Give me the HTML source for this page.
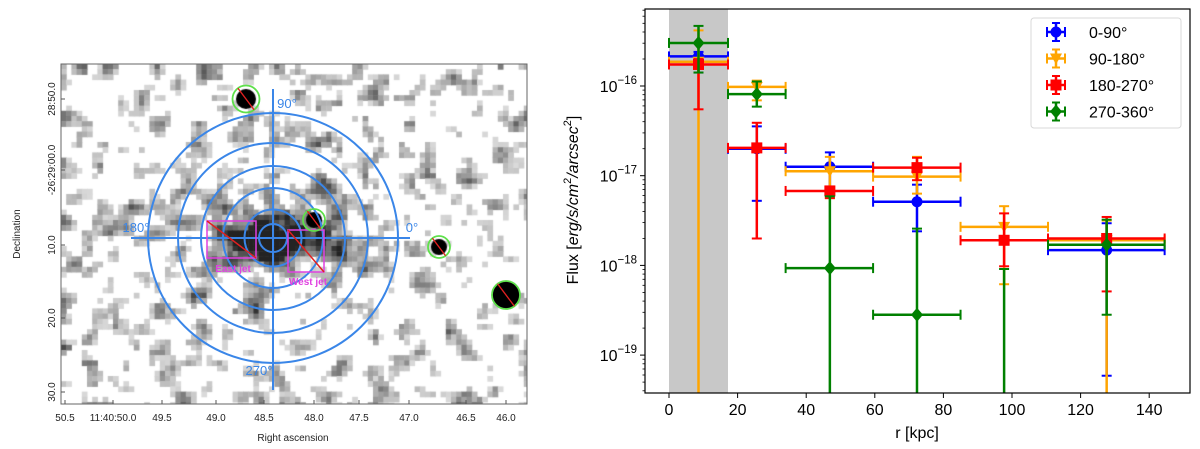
<!DOCTYPE html>
<html><head><meta charset="utf-8"><style>
html,body{margin:0;padding:0;background:#fff;width:1200px;height:449px;overflow:hidden;font-family:"Liberation Sans",sans-serif}
#img{position:absolute;left:0;top:0}
#chart{position:absolute;left:0;top:0}
</style></head><body>
<svg id="img" width="560" height="449" font-family="Liberation Sans, sans-serif">
<foreignObject x="61" y="64" width="466" height="340"><canvas xmlns="http://www.w3.org/1999/xhtml" id="cv" width="466" height="340"></canvas></foreignObject>
<rect x="61" y="64" width="466" height="340" fill="none" stroke="#666" stroke-width="1"/>
<g id="overlay"></g>
</svg>
<svg id="chart" width="1200" height="449" font-family="Liberation Sans, DejaVu Sans, sans-serif"></svg>
<script>
// ---------- sky image (noise texture) ----------
(function(){
 const cv=document.getElementById('cv');const c=cv.getContext('2d');
 c.fillStyle='#fff';c.fillRect(0,0,466,340);
 let s=12345;function rnd(){s=(s*1103515245+12345)&0x7fffffff;return s/0x7fffffff;}
 const cs=5.2,nx=Math.ceil(466/cs),ny=Math.ceil(340/cs);
 let g=[];for(let j=0;j<ny;j++){g[j]=[];for(let i=0;i<nx;i++)g[j][i]=rnd();}
 let h=[];for(let j=0;j<ny;j++){h[j]=[];for(let i=0;i<nx;i++){let t=0,n=0;for(let dj=-1;dj<=1;dj++)for(let di=-1;di<=1;di++){const a=g[j+dj]&&g[j+dj][i+di];if(a!==undefined){t+=a;n++;}}h[j][i]=t/n;}}
 const cx=273-61,cy=238-64;
 for(let j=0;j<ny;j++)for(let i=0;i<nx;i++){
  let v=(h[j][i]-0.5)*2.4+g[j][i]*0.15-0.05;
  const px=i*cs,py=j*cs;
  const dx=(px-cx)/50,dy=(py-cy)/18;const d=Math.exp(-(dx*dx+dy*dy));
  const dx2=(px-cx)/85,dy2=(py-cy)/55;const d2=Math.exp(-(dx2*dx2+dy2*dy2));
  v=v+d*1.8+d2*0.25;
  v=Math.max(0,Math.min(1,v));
  if(v<0.15)continue;
  const l=Math.round(250-v*215);
  c.fillStyle=`rgb(${l},${l},${l})`;c.fillRect(px,py,cs+0.5,cs+0.5);
 }
 const dots=[[246,99,10],[314,220,8],[439,247,8],[506,295,14]];
 dots.forEach(d=>{c.fillStyle='#000';c.beginPath();c.arc(d[0]-61,d[1]-64,d[2],0,7);c.fill();});
})();
(function(){
 const ns='http://www.w3.org/2000/svg';const o=document.getElementById('overlay');
 function el(t,a,p){const e=document.createElementNS(ns,t);for(const k in a)e.setAttribute(k,a[k]);(p||o).appendChild(e);return e;}
 const B='#3a86e8';
 [14,28.5,50,72,95,125].forEach((r,i)=>{const e=el('circle',{cx:273,cy:238,r:r,fill:'none',stroke:B,'stroke-width':2});
  
  });
 let e=el('line',{x1:273,y1:89,x2:273,y2:390,stroke:B,'stroke-width':2});
 e=el('line',{x1:131,y1:238,x2:410,y2:238,stroke:B,'stroke-width':2});
 [['90°',287,108,'label-90'],['180°',136,232,'label-180'],['0°',412,232,'label-0'],['270°',259,375,'label-270']].forEach(t=>{
  const x=el('text',{x:t[1],y:t[2],fill:B,'font-size':13,'text-anchor':'middle'});x.textContent=t[0];
  });
 e=el('rect',{x:207,y:221,width:49,height:37,fill:'none',stroke:'#e040e0','stroke-width':1.5});
 el('line',{x1:207,y1:221,x2:256,y2:258,stroke:'#e02020','stroke-width':1.5});
 e=el('rect',{x:288,y:230,width:36,height:42,fill:'none',stroke:'#e040e0','stroke-width':1.5});
 el('line',{x1:288,y1:230,x2:324,y2:272,stroke:'#e02020','stroke-width':1.5});
 e=el('text',{x:233,y:272,fill:'#e040e0','font-size':10,'text-anchor':'middle','font-weight':'bold'});e.textContent='East jet';
 e=el('text',{x:308,y:285,fill:'#e040e0','font-size':10,'text-anchor':'middle','font-weight':'bold'});e.textContent='West jet';
 [[246,99,13.5],[314,220,11],[439,247,11],[506,295,14]].forEach((d,i)=>{
  const c=el('circle',{cx:d[0],cy:d[1],r:d[2],fill:'none',stroke:'#5ee04a','stroke-width':1.8});
  
  el('line',{x1:d[0]-d[2]*0.6,y1:d[1]-d[2]*0.8,x2:d[0]+d[2]*0.6,y2:d[1]+d[2]*0.8,stroke:'#e02020','stroke-width':1.3});});
 [['50.5',65],['11:40:50.0',113],['49.5',162],['49.0',216],['48.5',264],['48.0',314],['47.5',359],['47.0',409],['46.5',466],['46.0',506]].forEach(t=>{
  const x=el('text',{x:t[1],y:421,'font-size':10,'text-anchor':'middle',fill:'#222'});x.textContent=t[0];
  
  el('line',{x1:t[1],y1:404,x2:t[1],y2:400,stroke:'#555'});});
 [['28:50.0',99],['-26:29:00.0',170],['10.0',245],['20.0',318],['30.0',392]].forEach(t=>{
  const x=el('text',{x:0,y:0,'font-size':10,'text-anchor':'middle',fill:'#222',transform:`translate(55,${t[1]}) rotate(-90)`});x.textContent=t[0];
  
  el('line',{x1:61,y1:t[1],x2:65,y2:t[1],stroke:'#555'});});
 e=el('text',{x:293,y:441,'font-size':10,'text-anchor':'middle',fill:'#222'});e.textContent='Right ascension';
 e=el('text',{x:0,y:0,'font-size':10,'text-anchor':'middle',fill:'#222',transform:'translate(20,234) rotate(-90)'});e.textContent='Declination';
})();
</script>
<script>
// ---------- flux profile chart data ----------
const binEdges=[0,17.2,34,59.5,85,110.5,144.5];
const binCenters=[8.6,25.6,46.9,72.3,97.7,127.6];
const seriesNames=['0-90°','90-180°','180-270°','270-360°'];
const seriesColors=['#0000ff','#ffa500','#ff0000','#008000'];
// log10 flux values, upper and lower error limits (null = not shown)
const blueVal=[-15.67,-16.70,-16.90,-17.29,null,-17.83];
const blueUp=[-15.62,-16.45,-16.74,-17.10,null,-17.53];
const blueLo=[-15.85,-17.28,-17.15,-17.62,null,-19.23];
const orangeVal=[-15.73,-16.01,-16.95,-17.01,-17.57,-17.72];
const orangeUp=[-15.38,-15.94,-16.79,-16.79,-17.34,-17.50];
const orangeLo=[-20,-16.16,-17.25,-17.20,-18.21,-20];
const redVal=[-15.76,-16.69,-17.17,-16.91,-17.72,-17.70];
const redUp=[-15.70,-16.41,-17.12,-16.80,-17.42,-17.46];
const redLo=[-16.26,-17.70,-17.25,-17.05,-18.01,-18.29];
const greenVal=[-15.52,-16.09,-18.03,-18.55,null,-17.77];
const greenUp=[-15.33,-15.95,-17.23,-17.59,-18.04,-17.49];
const greenLo=[-15.85,-16.23,-20,-20,-20,-18.55];
const xTicks=[0,20,40,60,80,100,120,140];
const yTicks=[-16,-17,-18,-19];
const shadedRegion=[0,17.2];

(function(){
 const ns='http://www.w3.org/2000/svg';const svg=document.getElementById('chart');
 function el(t,a,p){const e=document.createElementNS(ns,t);for(const k in a)e.setAttribute(k,a[k]);(p||svg).appendChild(e);return e;}
 const L=645,R=1190,T=9,Bt=393;
 const X=v=>669+v*3.43;
 const Y=v=>86+(-16-v)*89.7;
 const cl=y=>Math.max(T,Math.min(Bt,y));
 let e=el('rect',{x:X(shadedRegion[0]),y:T,width:X(shadedRegion[1])-X(shadedRegion[0]),height:Bt-T,fill:'#c8c8c8'});
 
 const all=[[blueVal,blueUp,blueLo],[orangeVal,orangeUp,orangeLo],[redVal,redUp,redLo],[greenVal,greenUp,greenLo]];
 const order=[0,1,2,3];
 order.forEach(si=>{
  const [v,u,l]=all[si];const col=seriesColors[si];
  const g=el('g',{});
  for(let i=0;i<binCenters.length;i++){
   const cx=X(binCenters[i]);
   if(u[i]!==null){
    const y1=cl(Y(u[i])),y2=cl(Y(l[i]));
    el('line',{x1:cx,y1:y1,x2:cx,y2:y2,stroke:col,'stroke-width':2.5},g);
    if(Y(u[i])>=T) el('line',{x1:cx-5,y1:y1,x2:cx+5,y2:y1,stroke:col,'stroke-width':2},g);
    if(Y(l[i])<=Bt) el('line',{x1:cx-5,y1:y2,x2:cx+5,y2:y2,stroke:col,'stroke-width':2},g);
   }
   if(v[i]===null)continue;
   const cy=Y(v[i]);
   const xa=X(binEdges[i]),xb=X(binEdges[i+1]);
   el('line',{x1:xa,y1:cy,x2:xb,y2:cy,stroke:col,'stroke-width':2.5},g);
   el('line',{x1:xa,y1:cy-5,x2:xa,y2:cy+5,stroke:col,'stroke-width':2},g);
   el('line',{x1:xb,y1:cy-5,x2:xb,y2:cy+5,stroke:col,'stroke-width':2},g);
   let m;
   if(si===0)m=el('circle',{cx:cx,cy:cy,r:5.5,fill:col},g);
   else if(si===1)m=el('polygon',{points:`${cx-6},${cy-5} ${cx+6},${cy-5} ${cx},${cy+6}`,fill:col},g);
   else if(si===2)m=el('rect',{x:cx-5.5,y:cy-5.5,width:11,height:11,fill:col},g);
   else m=el('polygon',{points:`${cx},${cy-7} ${cx+6},${cy} ${cx},${cy+7} ${cx-6},${cy}`,fill:col},g);
   
   
  }
 });
 e=el('rect',{x:L,y:T,width:R-L,height:Bt-T,fill:'none',stroke:'#000','stroke-width':1.2});
 
 xTicks.forEach(t=>{
  el('line',{x1:X(t),y1:Bt,x2:X(t),y2:Bt+5,stroke:'#000'});
  const tx=el('text',{x:X(t),y:Bt+22,'font-size':16,'text-anchor':'middle'});tx.textContent=t;
  
 });
 for(let d=-20;d<=-15;d++){for(let k=2;k<=9;k++){const y=Y(d+Math.log10(k));if(y>T&&y<Bt)el('line',{x1:L-2.5,y1:y,x2:L,y2:y,stroke:'#000','stroke-width':0.8});}}
 yTicks.forEach(t=>{
  el('line',{x1:L-5,y1:Y(t),x2:L,y2:Y(t),stroke:'#000'});
  const tx=el('text',{x:L-8,y:Y(t)+6,'font-size':16,'text-anchor':'end'});
  tx.innerHTML='10<tspan dy="-8" font-size="11.5">−'+(-t)+'</tspan>';
  
 });
 e=el('text',{x:917,y:438,'font-size':16,'text-anchor':'middle'});e.textContent='r [kpc]';
 
 e=el('text',{x:0,y:0,'font-size':16,'text-anchor':'middle',transform:'translate(578,200) rotate(-90)'});
 e.innerHTML='Flux [<tspan font-style="italic">erg/s/cm</tspan><tspan dy="-7" font-size="11">2</tspan><tspan dy="7" font-style="italic">/arcsec</tspan><tspan dy="-7" font-size="11">2</tspan><tspan dy="7">]</tspan>';
 
 const lg=el('g',{});
 el('rect',{x:1031,y:18,width:150,height:110,rx:3,fill:'#fff',stroke:'#d8d8d8'},lg);
 seriesNames.forEach((n,i)=>{
  const y=32+i*26.5,cx=1056,col=seriesColors[i];
  const eg=el('g',{},lg);
  el('line',{x1:cx-9,y1:y,x2:cx+9,y2:y,stroke:col,'stroke-width':2.5},eg);
  el('line',{x1:cx,y1:y-9,x2:cx,y2:y+9,stroke:col,'stroke-width':2.5},eg);
  el('line',{x1:cx-9,y1:y-5,x2:cx-9,y2:y+5,stroke:col,'stroke-width':2},eg);
  el('line',{x1:cx+9,y1:y-5,x2:cx+9,y2:y+5,stroke:col,'stroke-width':2},eg);
  el('line',{x1:cx-4,y1:y-9,x2:cx+4,y2:y-9,stroke:col,'stroke-width':2},eg);
  el('line',{x1:cx-4,y1:y+9,x2:cx+4,y2:y+9,stroke:col,'stroke-width':2},eg);
  if(i===0)el('circle',{cx:cx,cy:y,r:5.5,fill:col},eg);
  else if(i===1)el('polygon',{points:`${cx-6},${y-5} ${cx+6},${y-5} ${cx},${y+6}`,fill:col},eg);
  else if(i===2)el('rect',{x:cx-5.5,y:y-5.5,width:11,height:11,fill:col},eg);
  else el('polygon',{points:`${cx},${y-7} ${cx+6},${y} ${cx},${y+7} ${cx-6},${y}`,fill:col},eg);
  const t=el('text',{x:1089,y:y+6,'font-size':16},eg);t.textContent=n;
 });
})();
</script>
</body></html>
